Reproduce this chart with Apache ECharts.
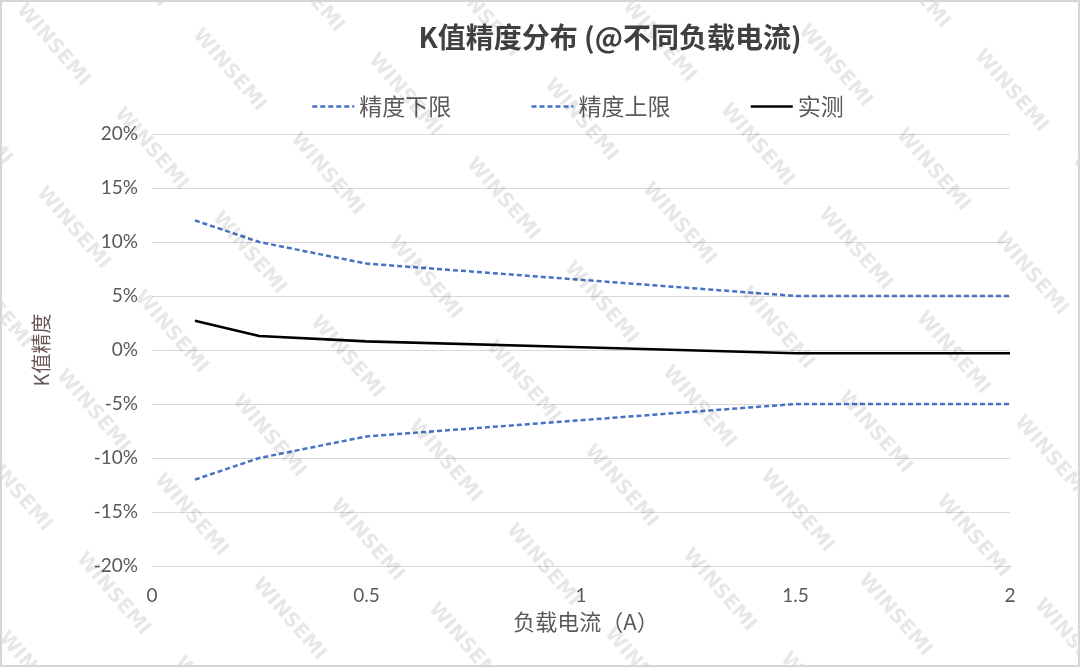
<!DOCTYPE html>
<html>
<head>
<meta charset="utf-8">
<script src="https://cdn.jsdelivr.net/npm/echarts@6/dist/echarts.min.js"></script>
<style>
  html, body { margin: 0; padding: 0; background: #fff; }
  #chart { width: 1080px; height: 667px; }
</style>
</head>
<body>
<div id="chart"></div>
<script>
// ---- data ----
const currentA = [0.1, 0.25, 0.5, 1, 1.5, 2];
const lowerLimit = [-12, -10, -8, -6.5, -5, -5];
const upperLimit = [12, 10, 8, 6.5, 5, 5];
const measured = [2.7, 1.3, 0.8, 0.25, -0.3, -0.3];
const seriesNames = ['精度下限', '精度上限', '实测'];
const titleText = 'K值精度分布 (@不同负载电流)';
const xName = '负载电流（A）';
const yName = 'K值精度';
const watermarkText = 'WINSEMI';

const pairs = (ys) => currentA.map((x, i) => [x, ys[i]]);

const font = 'Lato, "Noto Sans CJK SC", sans-serif';
const cjkFont = '"Noto Sans CJK SC", Lato, sans-serif';

// decoration: frame + watermark lattice
const deco = [{
  type: 'rect', silent: true, z: 101,
  shape: { x: 1, y: 1, width: 1078, height: 665 },
  style: { fill: 'none', stroke: '#d6d6d6', lineWidth: 2 }
}];
for (let k = -4; k <= 9; k++) {
  for (let m = -4; m <= 10; m++) {
    const x = 53 + k * 176 - m * 78;
    const y = 45 + k * 25 + m * 79;
    if (x < -70 || x > 1150 || y < -60 || y > 730) continue;
    deco.push({
      type: 'text', x: x, y: y, rotation: -0.86, z: 100, silent: true,
      style: {
        text: watermarkText, fill: 'rgba(0,0,0,0.095)',
        font: 'bold 20px "DejaVu Sans", sans-serif',
        textAlign: 'center', textVerticalAlign: 'middle'
      }
    });
  }
}

const chart = echarts.init(document.getElementById('chart'), null, { renderer: 'canvas' });
chart.setOption({
  animation: false,
  backgroundColor: '#fff',
  title: {
    text: titleText, left: 605, top: 18, textAlign: 'center',
    textStyle: { fontFamily: cjkFont, fontSize: 28, fontWeight: 'bold', color: '#404040' }
  },
  legend: {
    left: 306, top: 90, itemWidth: 42, itemHeight: 14, itemGap: 79, itemTextGap: 8,
    itemStyle: { opacity: 0 },
    lineStyle: { width: 2.5 },
    textStyle: { fontFamily: cjkFont, fontSize: 23, color: '#595959' },
    data: seriesNames
  },
  grid: { left: 152, right: 70, top: 134, bottom: 101, containLabel: false },
  xAxis: {
    type: 'value', min: 0, max: 2, interval: 0.5,
    name: xName, nameLocation: 'middle', nameGap: 45,
    nameTextStyle: { fontFamily: cjkFont, fontSize: 22, color: '#595959', padding: [0, 0, 0, 10] },
    axisLine: { show: false }, axisTick: { show: false },
    splitLine: { show: false },
    axisLabel: { margin: 20, fontFamily: font, fontSize: 19, color: '#595959' }
  },
  yAxis: {
    type: 'value', min: -20, max: 20, interval: 5,
    name: yName, nameLocation: 'middle', nameGap: 101, nameRotate: 90,
    nameTextStyle: { fontFamily: cjkFont, fontSize: 20, color: '#6a5656' },
    axisLine: { show: false }, axisTick: { show: false },
    splitLine: { lineStyle: { color: '#d9d9d9', width: 1 } },
    axisLabel: { margin: 14, fontFamily: font, fontSize: 19, color: '#595959', formatter: '{value}%' }
  },
  series: [
    { name: seriesNames[0], type: 'line', data: pairs(lowerLimit), showSymbol: false, symbol: 'none',
      lineStyle: { color: '#4472C4', width: 2.5, type: [5, 3] }, itemStyle: { color: '#4472C4' } },
    { name: seriesNames[1], type: 'line', data: pairs(upperLimit), showSymbol: false, symbol: 'none',
      lineStyle: { color: '#4472C4', width: 2.5, type: [5, 3] }, itemStyle: { color: '#4472C4' } },
    { name: seriesNames[2], type: 'line', data: pairs(measured), showSymbol: false, symbol: 'none',
      lineStyle: { color: '#000000', width: 2.6 }, itemStyle: { color: '#000000' } }
  ],
  graphic: deco
});
</script>
</body>
</html>
